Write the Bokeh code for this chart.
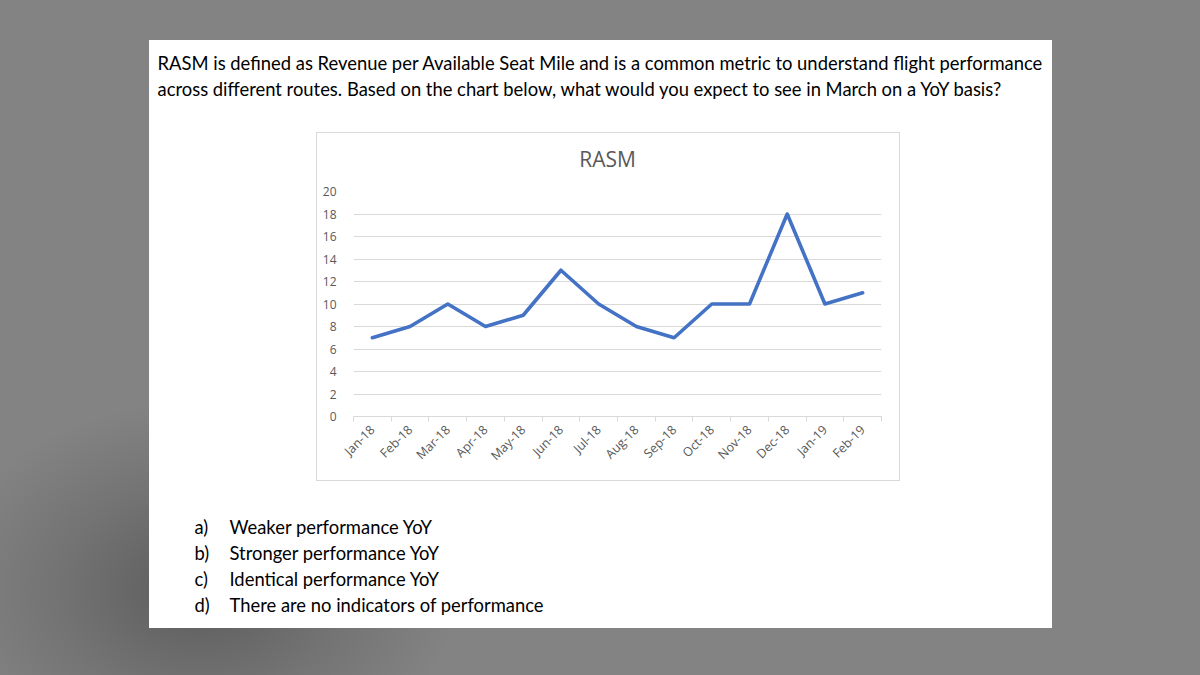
import math
from bokeh.plotting import figure
from bokeh.models import (Range1d, FixedTicker, Label, ColumnDataSource, Spacer, Column, Row)
from bokeh.embed import file_html
from bokeh.resources import INLINE

# ---------------- data ----------------
months = ["Jan-18", "Feb-18", "Mar-18", "Apr-18", "May-18", "Jun-18", "Jul-18",
          "Aug-18", "Sep-18", "Oct-18", "Nov-18", "Dec-18", "Jan-19", "Feb-19"]
rasm = [7, 8, 10, 8, 9, 13, 10, 8, 7, 10, 10, 18, 10, 11]
y_ticks = [0, 2, 4, 6, 8, 10, 12, 14, 16, 18, 20]
chart_title = "RASM"
question = [
    "RASM is defined as Revenue per Available Seat Mile and is a common metric to understand flight performance",
    "across different routes. Based on the chart below, what would you expect to see in March on a YoY basis?",
]
answer_keys = ["a)", "b)", "c)", "d)"]
answer_texts = ["Weaker performance YoY", "Stronger performance YoY",
                "Identical performance YoY", "There are no indicators of performance"]

# ---------------- styling / layout constants ----------------
BG = "#838383"
BOX = "#d9d9d9"
TXT_FONT = "Lato"
TXT_SIZE = "18.4px"
CH_FONT = "Open Sans"
GRAY_TXT = "#595959"
CARD_W = 903


def text_fig(w, h):
    f = figure(width=w, height=h, output_backend="svg", toolbar_location=None,
               x_range=Range1d(0, w), y_range=Range1d(h, 0),
               min_border=0, min_border_left=0, min_border_right=0,
               min_border_top=0, min_border_bottom=0)
    f.axis.visible = False
    f.grid.visible = False
    f.outline_line_color = None
    f.background_fill_color = "white"
    f.border_fill_color = "white"
    return f


def lbl(x, y, t, font=TXT_FONT, size=TXT_SIZE, color="black", align="left"):
    return Label(x=x, y=y, text=t, text_font=font, text_font_size=size,
                 text_color=color, text_align=align, text_baseline="middle")


# question
fq = text_fig(CARD_W, 92)
for i, line in enumerate(question):
    fq.add_layout(lbl(8, 22 + 26 * i, line))

# answers
fa = text_fig(CARD_W, 147)
for i, (k, t) in enumerate(zip(answer_keys, answer_texts)):
    fa.add_layout(lbl(45, 45 + 26 * i, k))
    fa.add_layout(lbl(80, 45 + 26 * i, t))

# chart title strip
ft = text_fig(582, 48)
ft.add_layout(lbl(280, 25, chart_title, font=CH_FONT, size="21px",
                  color=GRAY_TXT, align="center"))

# chart
p = figure(width=582, height=299, output_backend="svg", toolbar_location=None,
           x_range=Range1d(0, len(months)), y_range=Range1d(0, 20),
           min_border_left=36, min_border_right=18,
           min_border_top=10, min_border_bottom=64)
p.border_fill_color = "white"
p.background_fill_color = "white"
p.outline_line_color = None

centers = [i + 0.5 for i in range(len(months))]
xax = p.xaxis[0]
xax.ticker = FixedTicker(ticks=centers, minor_ticks=list(range(len(months) + 1)))
xax.major_label_overrides = {c: m for c, m in zip(centers, months)}
xax.major_label_orientation = math.pi / 4
xax.major_tick_out = 0
xax.major_tick_in = 0
xax.minor_tick_out = 5
xax.minor_tick_in = 0
xax.minor_tick_line_color = BOX
xax.axis_line_color = BOX
xax.major_label_text_font = CH_FONT
xax.major_label_text_font_size = "12.5px"
xax.major_label_text_color = GRAY_TXT
xax.major_label_standoff = 6

yax = p.yaxis[0]
yax.ticker = FixedTicker(ticks=y_ticks)
yax.axis_line_color = None
yax.major_tick_line_color = None
yax.minor_tick_line_color = None
yax.major_label_text_font = CH_FONT
yax.major_label_text_font_size = "12px"
yax.major_label_text_color = GRAY_TXT
yax.major_label_standoff = 11

p.xgrid.grid_line_color = None
p.ygrid.ticker = FixedTicker(ticks=y_ticks[1:])
p.ygrid.grid_line_color = BOX
p.ygrid.grid_line_width = 1

src = ColumnDataSource(dict(x=centers, y=rasm))
p.line("x", "y", source=src, line_color="#4472C4", line_width=3.6,
       line_join="round", line_cap="round")


def sp(w, h, color=None):
    if color is None:
        return Spacer(width=w, height=h)
    return Spacer(width=w, height=h, styles={"background-color": color})


chart_inner = Column(children=[ft, p], styles={"background-color": "white"})
chart_box = Column(children=[
    sp(584, 1, BOX),
    Row(children=[sp(1, 347, BOX), chart_inner, sp(1, 347, BOX)]),
    sp(584, 1, BOX),
], styles={"background-color": BOX})
chart_row = Row(children=[sp(167, 349), chart_box, sp(152, 349)],
                styles={"background-color": "white"})
card = Column(children=[fq, chart_row, fa],
              styles={"background-color": "white"})
middle = Row(children=[sp(149, 588), card, sp(148, 588)])
page = Column(children=[sp(1200, 40), middle, sp(1200, 47)],
              styles={"background": "radial-gradient(ellipse 260px 190px at 200px 590px, "
                                    "rgba(0,0,0,0.30) 0%, rgba(0,0,0,0.12) 55%, rgba(0,0,0,0) 100%), "
                                    + BG})

open("out.html", "w").write(file_html(page, INLINE))
